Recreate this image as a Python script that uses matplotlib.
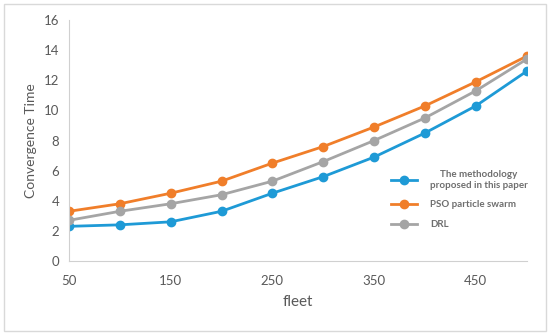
import matplotlib.pyplot as plt
from matplotlib.patches import Rectangle

fleet = [50, 100, 150, 200, 250, 300, 350, 400, 450, 500]
proposed = [2.3, 2.4, 2.6, 3.3, 4.5, 5.6, 6.9, 8.5, 10.3, 12.6]
pso = [3.3, 3.8, 4.5, 5.3, 6.5, 7.6, 8.9, 10.3, 11.9, 13.6]
drl = [2.7, 3.3, 3.8, 4.4, 5.3, 6.6, 8.0, 9.5, 11.3, 13.4]
labels = ["The methodology\nproposed in this paper", "PSO particle swarm", "DRL"]
xticks = [50, 150, 250, 350, 450]
yticks = [0, 2, 4, 6, 8, 10, 12, 14, 16]

plt.rcParams['font.family'] = ['Lato', 'DejaVu Sans']

fig = plt.figure(figsize=(5.5, 3.35), dpi=100)
ax = fig.add_axes([0.1255, 0.221, 0.832, 0.719])

ax.plot(fleet, proposed, color='#1E9AD6', lw=2, marker='o', ms=6, label=labels[0])
ax.plot(fleet, pso, color='#F07E2A', lw=2, marker='o', ms=6, label=labels[1])
ax.plot(fleet, drl, color='#A5A5A5', lw=2, marker='o', ms=6, label=labels[2])

ax.set_xlim(50, 500)
ax.set_ylim(0, 16)
ax.set_xticks(xticks)
ax.set_yticks(yticks)
ax.tick_params(axis='x', length=0, labelsize=9.5, colors='#595959', pad=10)
ax.tick_params(axis='y', length=0, labelsize=9.5, colors='#595959', pad=7)
for s in ['top', 'right']:
    ax.spines[s].set_visible(False)
for s in ['left', 'bottom']:
    ax.spines[s].set_color('#D0D0D0')
    ax.spines[s].set_linewidth(0.8)
ax.set_xlabel('fleet', fontsize=11, color='#595959', labelpad=6)
ax.set_ylabel('Convergence Time', fontsize=10, color='#595959', labelpad=5)

leg = ax.legend(loc='center left', bbox_to_anchor=(0.685, 0.255), frameon=False,
                prop={'size': 7, 'weight': 'bold'}, handlelength=2.6,
                labelspacing=1.1, handletextpad=1.4)
for t in leg.get_texts():
    t.set_color('#6E6E6E')
    t.set_multialignment('center')

fig.patches.append(Rectangle((0.007, 0.012), 0.986, 0.976, transform=fig.transFigure,
                             fill=False, edgecolor='#D9D9D9', lw=1))

fig.savefig('out.png', dpi=100)
